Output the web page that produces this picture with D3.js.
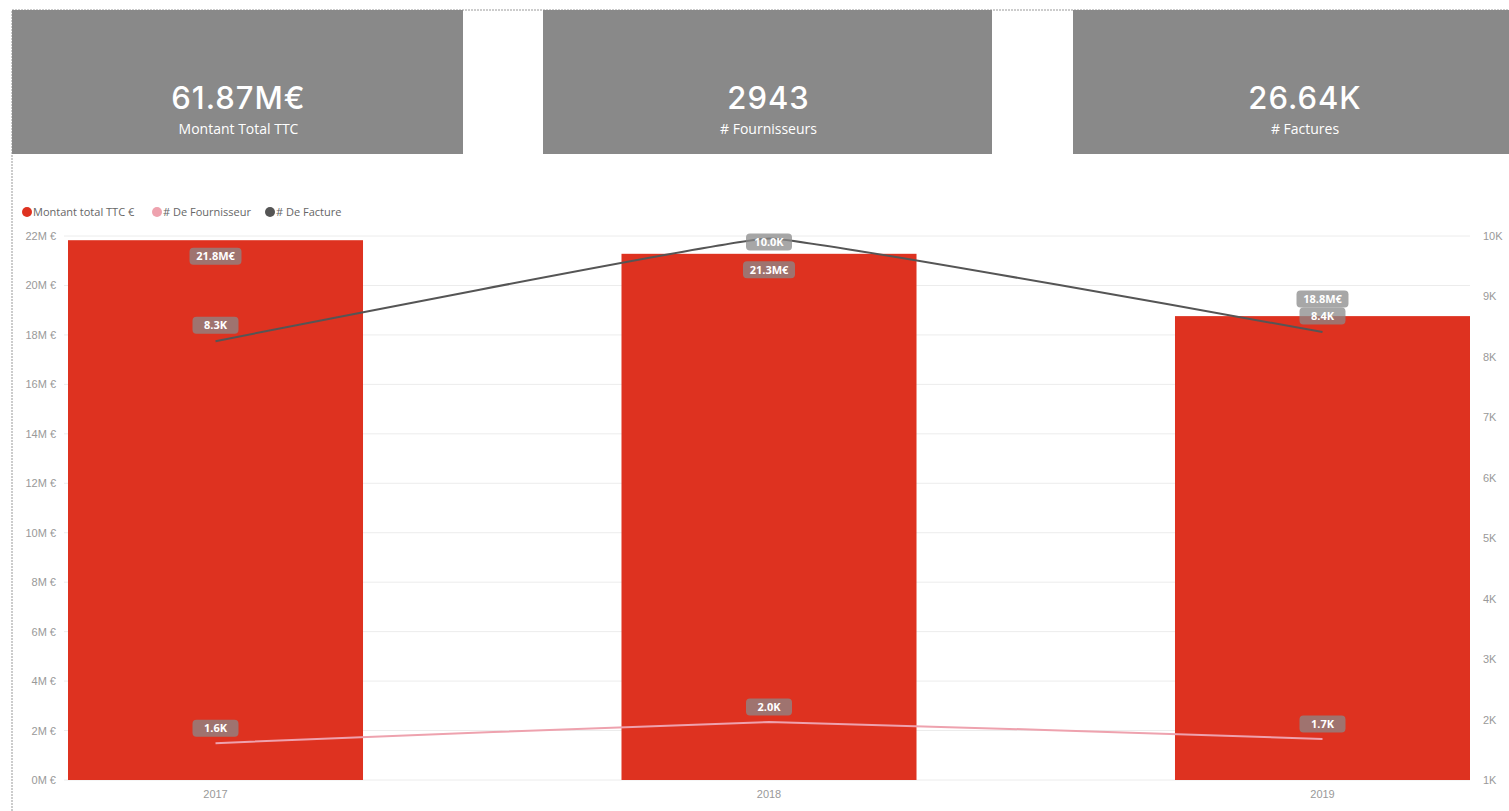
<!DOCTYPE html>
<html>
  <head>
    <meta charset="utf-8">
    <title>Factures</title>
    <style>
      body { margin: 0; background: #fff; }
      svg { display: block; font-family: "Open Sans", "DejaVu Sans", sans-serif; }
      .card-value { fill: #fff; font-size: 31px; font-weight: 500; letter-spacing: 1px; font-family: "Inter", "Noto Sans", sans-serif; text-anchor: middle; }
      .card-label { fill: #fff; font-size: 14px; text-anchor: middle; }
      .axis text { fill: #999; font-size: 11px; }
      .legend text { fill: #666; font-size: 11px; }
      .grid line { stroke: #ececec; }
      .dlabel text { fill: #fff; font-size: 11px; font-weight: bold; text-anchor: middle; }
    </style>
  </head>
  <body>
  <script src="https://cdnjs.cloudflare.com/ajax/libs/d3/7.8.5/d3.min.js"></script>
  <script>
const years = ['2017', '2018', '2019'];
const montant = [21.83, 21.28, 18.76];     // M€
const factures = [8.26, 9.96, 8.41];       // K
const fournisseurs = [1.61, 1.96, 1.68];   // K

const cardValues = ['61.87M€', '2943', '26.64K'];
const cardLabels = ['Montant Total TTC', '# Fournisseurs', '# Factures'];

const leftTicks = [0, 2, 4, 6, 8, 10, 12, 14, 16, 18, 20, 22];
const rightTicks = [1, 2, 3, 4, 5, 6, 7, 8, 9, 10];

const width = 1509;
const height = 811;

const red = '#de3220';
const pink = '#eea2ae';
const dark = '#555555';

const svg = d3.select('body').append('svg')
  .attr('width', width)
  .attr('height', height);

// dashed frame
svg.append('path')
  .attr('d', `M12,${height}L12,10L${width},10`)
  .attr('fill', 'none')
  .attr('stroke', '#999')
  .attr('stroke-dasharray', '2,1');

// cards
const cardLeft = [12, 543, 1073];
const cardW = [451, 449, 436];
const card = svg.append('g').selectAll('g')
  .data(cardValues)
  .join('g')
  .attr('transform', (d, i) => `translate(${cardLeft[i]},10)`);

card.append('rect')
  .attr('width', (d, i) => cardW[i])
  .attr('height', 144)
  .attr('fill', '#898989');

card.append('text')
  .attr('class', 'card-value')
  .attr('x', (d, i) => cardW[i] / 2 + (i === 2 ? 14 : 1))
  .attr('y', 99)
  .text((d) => d);

card.append('text')
  .attr('class', 'card-label')
  .attr('x', (d, i) => cardW[i] / 2 + (i === 2 ? 14 : 1))
  .attr('y', 124)
  .text((d, i) => cardLabels[i]);

// chart
const plotTop = 236, plotBottom = 780, plotLeft = 68, plotRight = 1470;

const x = d3.scaleBand().domain(years).range([plotLeft, plotRight]).paddingInner(0.467).paddingOuter(0);
const yL = d3.scaleLinear().domain([0, 22]).range([plotBottom, plotTop]);
const yR = d3.scaleLinear().domain([1, 10]).range([plotBottom, plotTop]);

svg.append('g').attr('class', 'grid')
  .selectAll('line')
  .data(leftTicks)
  .join('line')
  .attr('x1', 64)
  .attr('x2', plotRight)
  .attr('y1', (d) => yL(d))
  .attr('y2', (d) => yL(d));

svg.append('g').attr('class', 'axis')
  .attr('transform', 'translate(58,0)')
  .call(d3.axisLeft(yL).tickValues(leftTicks).tickSize(0).tickPadding(2).tickFormat((d) => `${d}M €`))
  .call((g) => g.select('.domain').remove());

svg.append('g').attr('class', 'axis')
  .attr('transform', 'translate(1481,0)')
  .call(d3.axisRight(yR).tickValues(rightTicks).tickSize(0).tickPadding(2).tickFormat((d) => `${d}K`))
  .call((g) => g.select('.domain').remove());

svg.append('g').attr('class', 'axis')
  .attr('transform', `translate(0,${plotBottom + 6})`)
  .call(d3.axisBottom(x).tickSize(0).tickPadding(4))
  .call((g) => g.select('.domain').remove());

// bars
svg.append('g').selectAll('rect')
  .data(montant)
  .join('rect')
  .attr('x', (d, i) => x(years[i]))
  .attr('width', x.bandwidth())
  .attr('y', (d) => yL(d))
  .attr('height', (d) => plotBottom - yL(d))
  .attr('fill', red);

// lines
const cx = (i) => x(years[i]) + x.bandwidth() / 2;

const line = d3.line()
  .x((d, i) => cx(i))
  .y((d) => yR(d))
  .curve(d3.curveCardinal.tension(0.8));

svg.append('path').datum(fournisseurs)
  .attr('d', line).attr('fill', 'none').attr('stroke', pink).attr('stroke-width', 2);

svg.append('path').datum(factures)
  .attr('d', line).attr('fill', 'none').attr('stroke', dark).attr('stroke-width', 2);

// data labels
const labels = [];
factures.forEach((v, i) => {
  labels.push({ x: cx(i), y: Math.max(yR(v) - 16, plotTop + 6), text: `${v.toFixed(1)}K`, w: 46 });
});
fournisseurs.forEach((v, i) => {
  labels.push({ x: cx(i), y: yR(v) - 15, text: `${v.toFixed(1)}K`, w: 46 });
});
montant.forEach((v, i) => {
  let y = yL(v) + 16;
  const hit = labels.find((l) => l.x === cx(i) && Math.abs(l.y - y) < 17);
  if (hit) y = hit.y - 17;
  labels.push({ x: cx(i), y: y, text: `${v.toFixed(1)}M€`, w: 52 });
});

const lab = svg.append('g').attr('class', 'dlabel')
  .selectAll('g')
  .data(labels)
  .join('g')
  .attr('transform', (d) => `translate(${d.x},${d.y})`);

lab.append('rect')
  .attr('x', (d) => -d.w / 2)
  .attr('y', -8.5)
  .attr('width', (d) => d.w)
  .attr('height', 17)
  .attr('rx', 4)
  .attr('fill', '#8a8a8a')
  .attr('fill-opacity', 0.75);

lab.append('text')
  .attr('y', 4)
  .text((d) => d.text);

// legend
const legendItems = [
  { name: 'Montant total TTC €', color: red, x: 27 },
  { name: '# De Fournisseur', color: pink, x: 157 },
  { name: '# De Facture', color: dark, x: 270 }
];
const leg = svg.append('g').attr('class', 'legend')
  .selectAll('g')
  .data(legendItems)
  .join('g')
  .attr('transform', (d) => `translate(${d.x},212)`);
leg.append('circle').attr('r', 5).attr('fill', (d) => d.color);
leg.append('text').attr('x', 6).attr('y', 4).text((d) => d.name);
  </script>
  </body>
</html>
